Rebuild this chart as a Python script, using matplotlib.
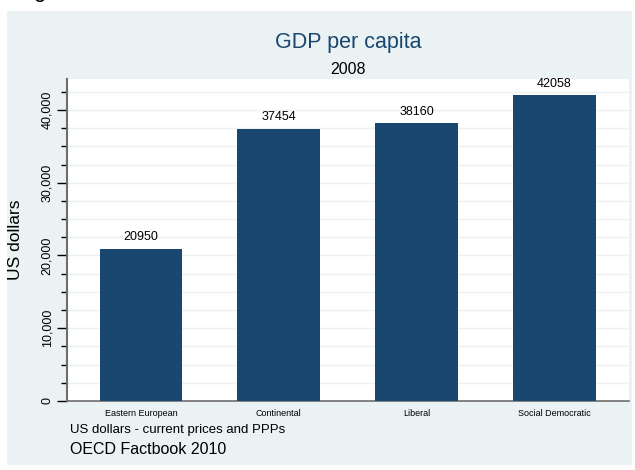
import matplotlib.pyplot as plt
from matplotlib.patches import Rectangle
from matplotlib.ticker import MultipleLocator, FuncFormatter

# data
regimes = ["Eastern European", "Continental", "Liberal", "Social Democratic"]
gdp = [20950, 37454, 38160, 42058]

navy = "#1a476f"
bg = "#eaf2f3"

plt.rcParams['font.family'] = ['Liberation Sans', 'DejaVu Sans']

fig = plt.figure(figsize=(6.35, 4.70), dpi=100)
fig.patch.set_facecolor("white")

# stata style graph region
fig.patches.append(Rectangle((7/635, 5/470), 625/635, 454/470,
                             transform=fig.transFigure, facecolor=bg,
                             edgecolor="none", zorder=-10))

# cut-off glyph at the very top
fig.text(33/635, 1 + 3/470, "g", fontsize=16, ha="left", va="baseline")

ax = fig.add_axes([67/635, 69/470, 562/635, 322/470])
ax.set_facecolor("white")

x = list(range(len(regimes)))
ax.bar(x, gdp, width=0.6, color=navy, zorder=3)
for xi, v in zip(x, gdp):
    ax.annotate(str(v), (xi, v), xytext=(0, 6), textcoords="offset points",
                ha="center", va="baseline", fontsize=9)

ax.set_xlim(-0.536, 3.54)
ax.set_ylim(0, 44260)
ax.set_xticks(x)
ax.set_xticklabels(regimes, fontsize=6.5)
ax.tick_params(axis="x", length=0, pad=6)

ax.yaxis.set_major_locator(MultipleLocator(10000))
ax.yaxis.set_minor_locator(MultipleLocator(2500))
ax.yaxis.set_major_formatter(FuncFormatter(lambda v, p: f"{int(v):,}"))
ax.tick_params(axis="y", which="major", length=7, width=1, color="black",
               labelsize=9, pad=3)
ax.tick_params(axis="y", which="minor", length=4, width=1, color="black")
for lab in ax.get_yticklabels():
    lab.set_rotation(90)
    lab.set_va("center")
ax.grid(axis="y", which="both", color=bg, lw=1, zorder=1)

for s in ["top", "right"]:
    ax.spines[s].set_visible(False)
ax.spines["left"].set_color("#6e6e6e")
ax.spines["left"].set_linewidth(1.5)
ax.spines["bottom"].set_color("#6e6e6e")
ax.spines["bottom"].set_linewidth(1.2)

ax.set_ylabel("US dollars", fontsize=12.5)
ax.yaxis.set_label_coords(-44/562, 0.5)

fig.text(348/635, 1 - 48/470, "GDP per capita", color=navy, fontsize=15.5,
         ha="center", va="baseline")
fig.text(348/635, 1 - 74/470, "2008", fontsize=11.5, ha="center", va="baseline")

fig.text(70/635, 1 - 433/470, "US dollars - current prices and PPPs",
         fontsize=9.5, ha="left", va="baseline")
fig.text(70/635, 1 - 454/470, "OECD Factbook 2010", fontsize=11.5,
         ha="left", va="baseline")

fig.savefig("out.png", dpi=100)
